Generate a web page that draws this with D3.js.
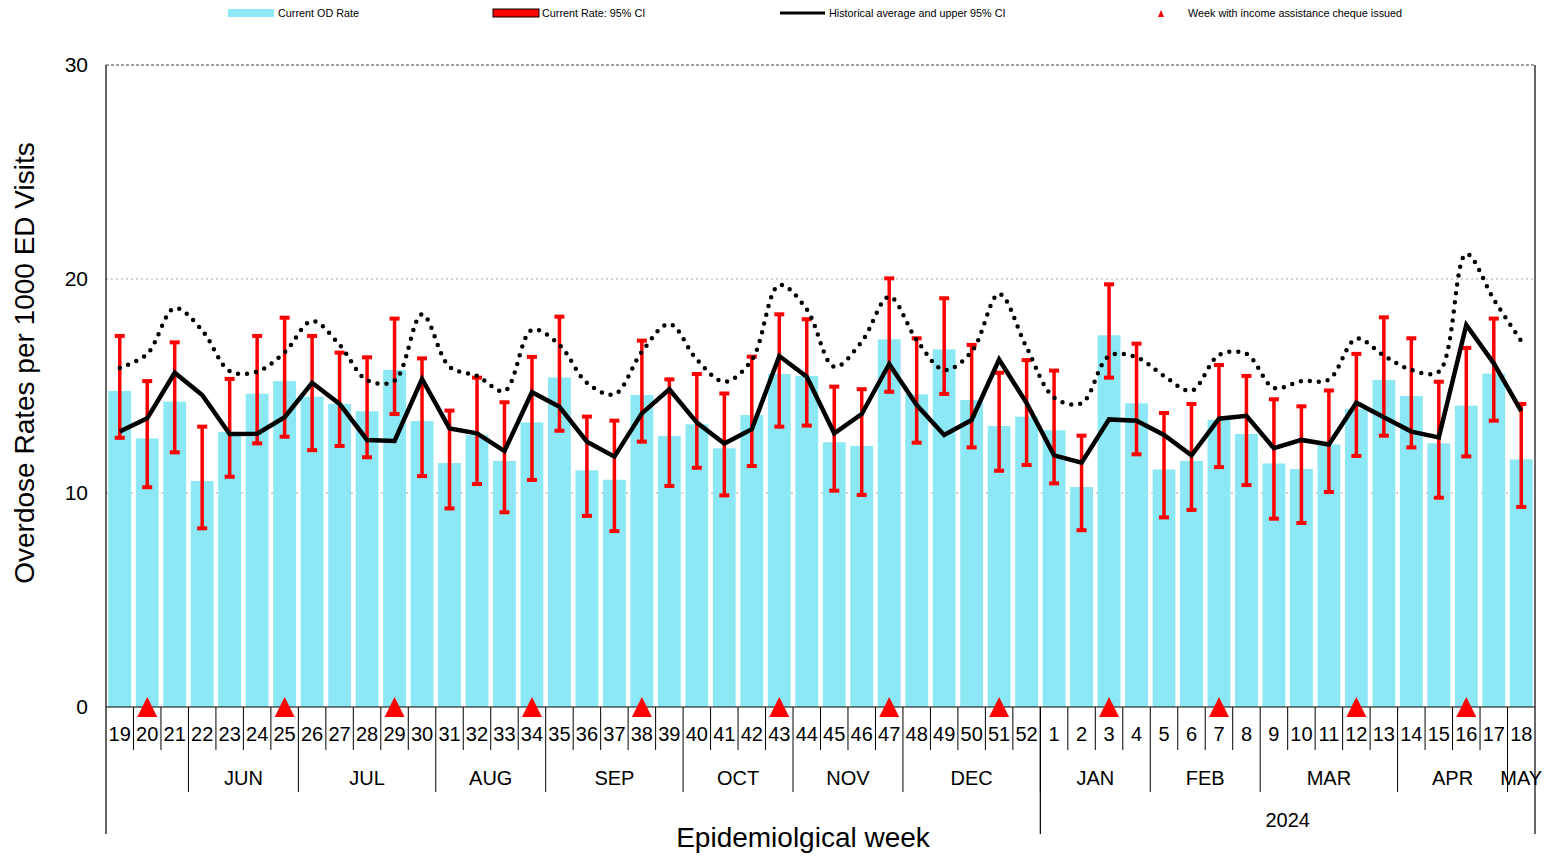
<!DOCTYPE html>
<html>
<head>
<meta charset="utf-8">
<script src="https://cdn.jsdelivr.net/npm/d3@7"></script>
<style>
  body { margin: 0; background: #fff; }
  text { font-family: "Liberation Sans", Arial, sans-serif; fill: #000; }
</style>
</head>
<body>
<script>
'use strict';

// epidemiological weeks, May 2023 -> May 2024
let weeks = [19, 20, 21, 22, 23, 24, 25, 26, 27, 28, 29, 30, 31, 32, 33, 34, 35, 36, 37, 38,
  39, 40, 41, 42, 43, 44, 45, 46, 47, 48, 49, 50, 51, 52,
  1, 2, 3, 4, 5, 6, 7, 8, 9, 10, 11, 12, 13, 14, 15, 16, 17, 18];

let rate = [14.77, 12.55, 14.27, 10.56, 12.85, 14.64, 15.23, 14.5, 14.16, 13.82, 15.75, 13.36,
  11.4, 12.71, 11.5, 13.3, 15.4, 11.06, 10.62, 14.58, 12.66, 13.21, 12.09, 13.64, 15.56,
  15.47, 12.37, 12.2, 17.18, 14.61, 16.71, 14.35, 13.13, 13.57,
  12.93, 10.28, 17.37, 14.19, 11.1, 11.5, 13.41, 12.76, 11.38, 11.12, 12.27, 13.93, 15.28,
  14.53, 12.32, 14.08, 15.58, 11.57];

let ciLow = [12.58, 10.27, 11.9, 8.35, 10.76, 12.32, 12.63, 12.0, 12.2, 11.67, 13.69, 10.79,
  9.28, 10.42, 9.1, 10.61, 12.91, 8.93, 8.22, 12.4, 10.33, 11.18, 9.89, 11.26, 13.1,
  13.15, 10.11, 9.91, 14.73, 12.35, 14.63, 12.13, 11.04, 11.31,
  10.45, 8.26, 15.39, 11.81, 8.86, 9.21, 11.21, 10.37, 8.8, 8.6, 10.05, 11.73, 12.68,
  12.13, 9.78, 11.71, 13.38, 9.35];

let ciHigh = [17.34, 15.23, 17.04, 13.1, 15.33, 17.34, 18.19, 17.34, 16.56, 16.34, 18.15, 16.29,
  13.85, 15.39, 14.24, 16.36, 18.24, 13.57, 13.38, 17.12, 15.31, 15.56, 14.65, 16.37, 18.35,
  18.12, 14.97, 14.85, 20.03, 17.23, 19.1, 16.92, 15.62, 16.21,
  15.72, 12.68, 19.75, 16.98, 13.74, 14.16, 15.98, 15.47, 14.38, 14.05, 14.79, 16.5, 18.21,
  17.23, 15.2, 16.78, 18.15, 14.16];

let histAvg = [12.87, 13.49, 15.62, 14.58, 12.76, 12.77, 13.54, 15.15, 14.16, 12.48, 12.43, 15.33,
  13.02, 12.79, 11.96, 14.71, 14.03, 12.4, 11.7, 13.72, 14.85, 13.29, 12.31, 12.98, 16.4,
  15.43, 12.79, 13.69, 16.03, 14.11, 12.71, 13.41, 16.24, 14.2,
  11.76, 11.42, 13.44, 13.38, 12.71, 11.76, 13.47, 13.61, 12.09, 12.48, 12.27, 14.22, 13.54,
  12.87, 12.6, 17.85, 16.06, 13.83];

let histUpper = [15.84, 16.5, 18.64, 17.6, 15.7, 15.67, 16.57, 18.04, 16.92, 15.27, 15.25, 18.35,
  15.9, 15.47, 14.77, 17.62, 16.92, 15.15, 14.61, 16.6, 17.9, 16.24, 15.2, 16.21, 19.72,
  18.58, 15.9, 17.07, 19.17, 17.15, 15.75, 16.6, 19.3, 16.8,
  14.46, 14.2, 16.4, 16.34, 15.47, 14.78, 16.45, 16.5, 14.91, 15.23, 15.3, 17.21, 16.42,
  15.75, 15.67, 21.17, 19.05, 17.1];

let chequeWeeks = [20, 25, 29, 34, 38, 43, 47, 51, 3, 7, 12, 16];

let months = ['', 'JUN', 'JUL', 'AUG', 'SEP', 'OCT', 'NOV', 'DEC', 'JAN', 'FEB', 'MAR', 'APR', 'MAY'];
let monthSpans = [3, 4, 5, 4, 5, 4, 4, 5, 4, 4, 5, 4, 1];

let years = ['', '2024'];
let yearSpans = [34, 18];

let yTicks = [0, 10, 20, 30];

let width = 1544;
let height = 856;
let plotLeft = 106, plotRight = 1535, plotTop = 65, plotBottom = 707;

let svg = d3.select('body').append('svg')
    .attr('width', width)
    .attr('height', height);

let x = d3.scaleBand()
    .domain(d3.range(weeks.length))
    .range([plotLeft, plotRight])
    .paddingInner(0.17)
    .paddingOuter(0.085);

let y = d3.scaleLinear()
    .domain([0, 30])
    .range([plotBottom, plotTop]);

let step = x.step();
let cx = i => x(i) + x.bandwidth() / 2;
let edge = k => plotLeft + k * step;

// gridlines
svg.append('g').selectAll('line')
  .data([10, 20])
  .enter().append('line')
    .attr('x1', plotLeft).attr('x2', plotRight)
    .attr('y1', d => y(d)).attr('y2', d => y(d))
    .attr('stroke', '#d3d3d3')
    .attr('stroke-width', 2)
    .attr('stroke-dasharray', '2,3');

svg.append('line')
    .attr('x1', plotLeft).attr('x2', plotRight)
    .attr('y1', y(30)).attr('y2', y(30))
    .attr('stroke', '#444')
    .attr('stroke-width', 1)
    .attr('stroke-dasharray', '3,2');

// bars
svg.append('g').selectAll('rect')
  .data(rate)
  .enter().append('rect')
    .attr('x', (d, i) => x(i))
    .attr('width', x.bandwidth())
    .attr('y', d => y(d))
    .attr('height', d => y(0) - y(d))
    .attr('fill', '#8be8f4');

// confidence intervals
let ci = svg.append('g').selectAll('g')
  .data(rate.map((d, i) => ({ i: i, lo: ciLow[i], hi: ciHigh[i] })))
  .enter().append('g');

ci.append('line')
    .attr('x1', d => cx(d.i)).attr('x2', d => cx(d.i))
    .attr('y1', d => y(d.hi)).attr('y2', d => y(d.lo))
    .attr('stroke', '#ff0000')
    .attr('stroke-width', 3.5);

ci.selectAll('rect')
  .data(d => [{ i: d.i, v: d.hi }, { i: d.i, v: d.lo }])
  .enter().append('rect')
    .attr('x', d => cx(d.i) - 5)
    .attr('y', d => y(d.v) - 2)
    .attr('width', 10)
    .attr('height', 4)
    .attr('fill', '#ff0000');

// historical upper 95% CI (dotted)
let upperLine = d3.line()
    .x((d, i) => cx(i))
    .y(d => y(d))
    .curve(d3.curveCatmullRom.alpha(0.5));

svg.append('path')
    .datum(histUpper)
    .attr('d', upperLine)
    .attr('fill', 'none')
    .attr('stroke', '#000')
    .attr('stroke-width', 4.5)
    .attr('stroke-linecap', 'round')
    .attr('stroke-dasharray', '0,9');

// historical average
let avgLine = d3.line()
    .x((d, i) => cx(i))
    .y(d => y(d));

svg.append('path')
    .datum(histAvg)
    .attr('d', avgLine)
    .attr('fill', 'none')
    .attr('stroke', '#000')
    .attr('stroke-width', 4.5)
    .attr('stroke-linejoin', 'miter');

// axis frame
svg.append('line')
    .attr('x1', plotLeft).attr('x2', plotRight)
    .attr('y1', plotBottom).attr('y2', plotBottom)
    .attr('stroke', '#000').attr('stroke-width', 1);

// y axis labels
let yAxis = d3.axisLeft(y).tickValues(yTicks).tickSize(0).tickPadding(18);
svg.append('g')
    .attr('transform', `translate(${plotLeft},0)`)
    .call(yAxis)
    .call(g => g.select('.domain').remove())
    .selectAll('text')
      .attr('font-size', 21)
      .attr('font-family', '"Liberation Sans", Arial, sans-serif');

svg.append('text')
    .attr('transform', `translate(34,${(plotTop + plotBottom) / 2 - 23}) rotate(-90)`)
    .attr('text-anchor', 'middle')
    .attr('font-size', 28)
    .text('Overdose Rates per 1000 ED Visits');

// week labels
let xAxis = d3.axisBottom(x).tickSize(0).tickPadding(20).tickFormat(i => weeks[i]);
svg.append('g')
    .attr('transform', `translate(0,${plotBottom})`)
    .call(xAxis)
    .call(g => g.select('.domain').remove())
    .selectAll('text')
      .attr('font-size', 20)
      .attr('font-family', '"Liberation Sans", Arial, sans-serif');

// week separators
svg.append('g').selectAll('line')
  .data(d3.range(1, weeks.length))
  .enter().append('line')
    .attr('x1', d => edge(d)).attr('x2', d => edge(d))
    .attr('y1', plotBottom).attr('y2', 750)
    .attr('stroke', '#000').attr('stroke-width', 1);

// month row
let monthStarts = Array.from(d3.cumsum([0].concat(monthSpans)));
svg.append('g').selectAll('text')
  .data(months)
  .enter().append('text')
    .attr('x', (d, i) => edge(monthStarts[i] + monthSpans[i] / 2))
    .attr('y', 785)
    .attr('text-anchor', 'middle')
    .attr('font-size', 20)
    .text(d => d);

svg.append('g').selectAll('line')
  .data(monthStarts.slice(1, -1))
  .enter().append('line')
    .attr('x1', d => edge(d)).attr('x2', d => edge(d))
    .attr('y1', 750).attr('y2', 792)
    .attr('stroke', '#000').attr('stroke-width', 1);

// year row
let yearStarts = Array.from(d3.cumsum([0].concat(yearSpans)));
svg.append('g').selectAll('text')
  .data(years)
  .enter().append('text')
    .attr('x', (d, i) => edge(yearStarts[i] + yearSpans[i] / 2))
    .attr('y', 827)
    .attr('text-anchor', 'middle')
    .attr('font-size', 20)
    .text(d => d);

svg.append('g').selectAll('line')
  .data(yearStarts)
  .enter().append('line')
    .attr('x1', d => edge(d)).attr('x2', d => edge(d))
    .attr('y1', d => (d === 0 || d === weeks.length) ? plotTop : plotBottom)
    .attr('y2', 834)
    .attr('stroke', '#000').attr('stroke-width', 1.2);

svg.append('text')
    .attr('x', 803)
    .attr('y', 847)
    .attr('text-anchor', 'middle')
    .attr('font-size', 28)
    .text('Epidemiolgical week');

// cheque weeks
svg.append('g').selectAll('path')
  .data(chequeWeeks.map(w => weeks.indexOf(w)))
  .enter().append('path')
    .attr('d', i => {
      let c = cx(i), b = y(0);
      return `M${c - 10},${b + 10}L${c + 10},${b + 10}L${c},${b - 10}Z`;
    })
    .attr('fill', '#ff0000');

// legend
let legend = svg.append('g');
let lfs = 10.8;

legend.append('rect')
    .attr('x', 228).attr('y', 9).attr('width', 46).attr('height', 8)
    .attr('fill', '#8be8f4');
legend.append('text').attr('x', 278).attr('y', 17).attr('font-size', lfs).text('Current OD Rate');

legend.append('rect')
    .attr('x', 493).attr('y', 9).attr('width', 46).attr('height', 8)
    .attr('fill', '#ff0000').attr('stroke', '#000').attr('stroke-width', 1);
legend.append('text').attr('x', 542).attr('y', 17).attr('font-size', lfs).text('Current Rate: 95% CI');

legend.append('line')
    .attr('x1', 780).attr('x2', 825).attr('y1', 13).attr('y2', 13)
    .attr('stroke', '#000').attr('stroke-width', 3);
legend.append('text').attr('x', 829).attr('y', 17).attr('font-size', lfs).text('Historical average and upper 95% CI');

legend.append('path')
    .attr('d', 'M1158,17L1164,17L1161,10Z')
    .attr('fill', '#ff0000');
legend.append('text').attr('x', 1188).attr('y', 17).attr('font-size', lfs).text('Week with income assistance cheque issued');
</script>
</body>
</html>
